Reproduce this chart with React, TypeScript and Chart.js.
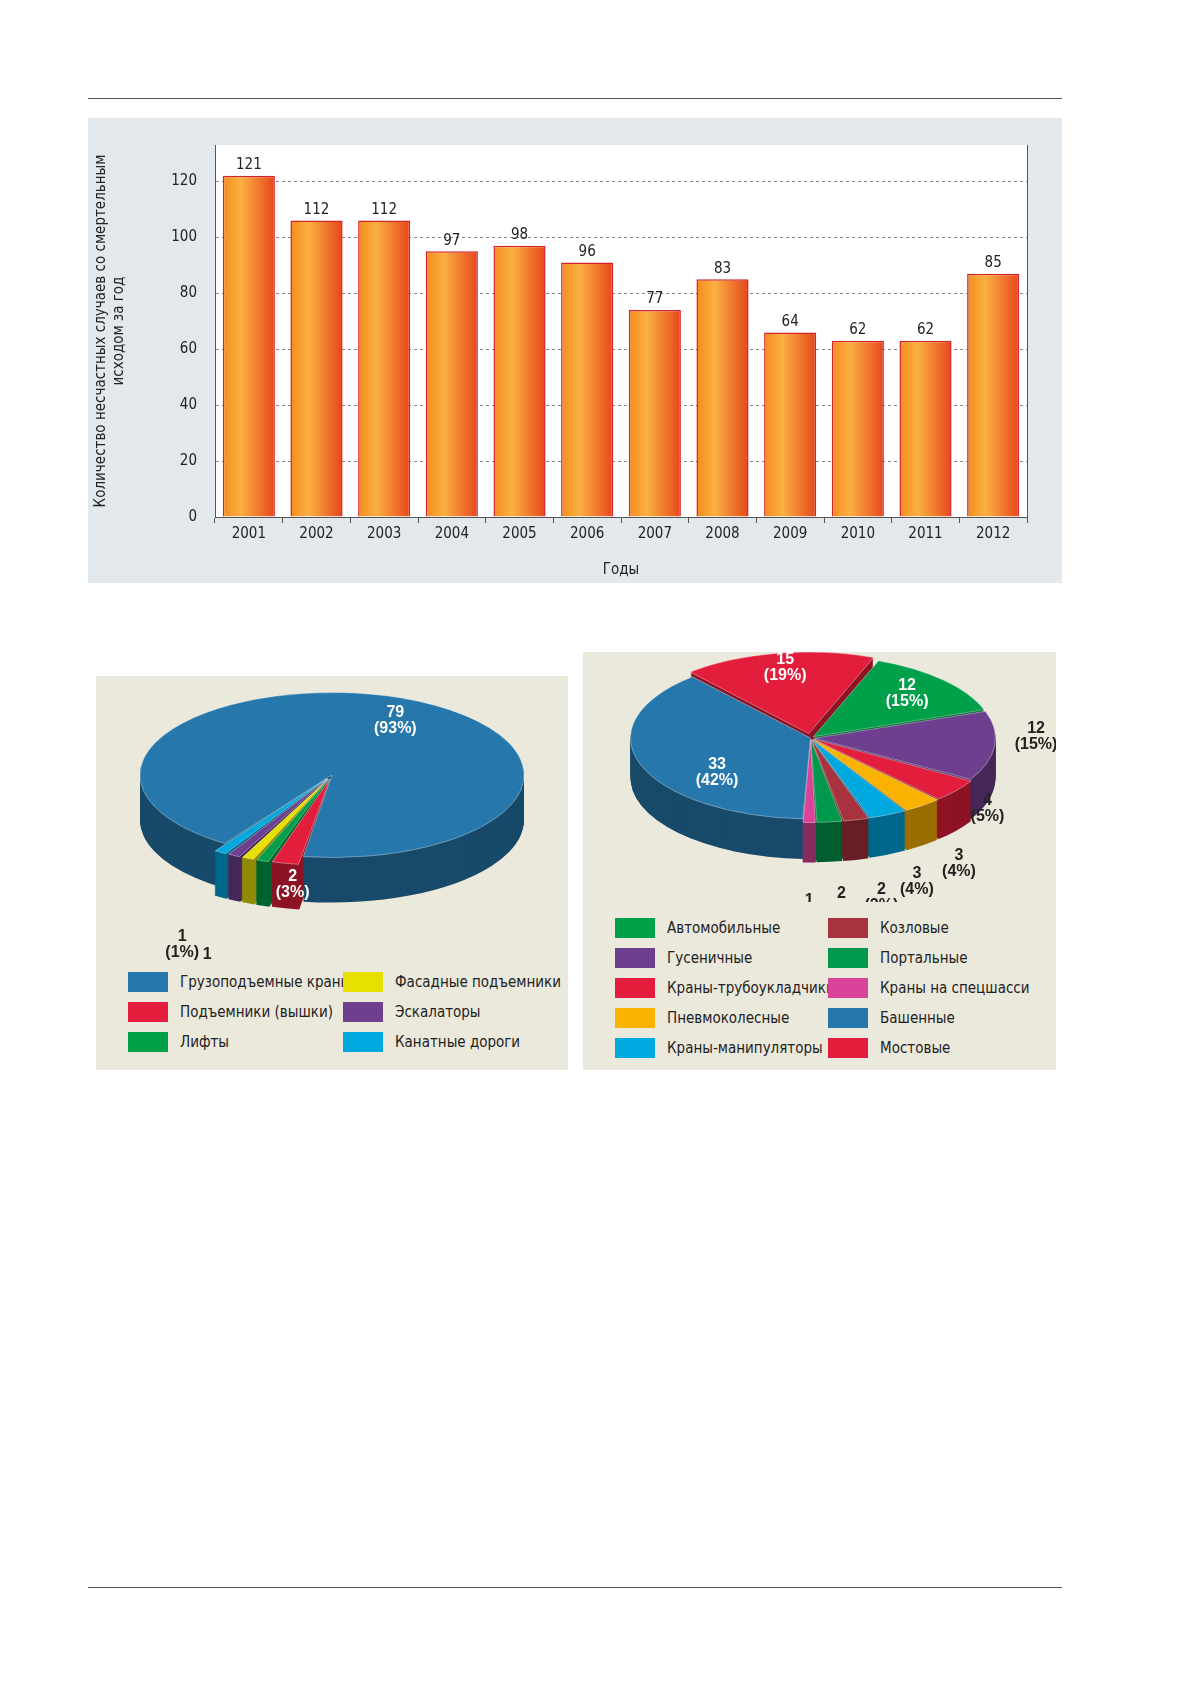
import React, { useEffect, useRef } from "react";
import { Chart, registerables } from "chart.js";
Chart.register(...registerables);

const FONT = "'Liberation Sans Narrow', 'DejaVu Sans Condensed', 'Liberation Sans', sans-serif";

// Bar chart data
const years = ["2001","2002","2003","2004","2005","2006","2007","2008","2009","2010","2011","2012"];
const barHeights = [122, 106, 106, 95, 97, 91, 74, 85, 66, 63, 63, 87];
const barLabels = ["121","112","112","97","98","96","77","83","64","62","62","85"];
const yTicks = [0, 20, 40, 60, 80, 100, 120];

// Left pie
const leftNames = ["Грузоподъемные краны","Подъемники (вышки)","Лифты","Фасадные подъемники","Эскалаторы","Канатные дороги"];
const leftValues = [79, 2, 1, 1, 1, 1];
const leftPct = ["93%","3%","1%","1%","1%","1%"];
const leftColors = ["#2677ab","#e31e3c","#00a04a","#e8e000","#6f3f8f","#00a8e0"];
const leftLegendOrder = [0, 3, 1, 4, 2, 5];

// Right pie
const rightNames = ["Мостовые","Автомобильные","Гусеничные","Краны-трубоукладчики","Пневмоколесные","Краны-манипуляторы","Козловые","Портальные","Краны на спецшасси","Башенные"];
const rightValues = [15, 12, 12, 4, 3, 3, 2, 2, 1, 33];
const rightPct = ["19%","15%","15%","5%","4%","4%","2%","3%","1%","42%"];
const rightColors = ["#e31e3c","#00a04a","#6f3f8f","#e31e3c","#f9b200","#00a8e0","#a8323e","#00984a","#d9449a","#2677ab"];
const rightLegendOrder = [1, 6, 2, 7, 3, 8, 4, 9, 5, 0];

function darken(hex: string, f: number) {
  const n = parseInt(hex.slice(1), 16);
  const r = Math.round(((n >> 16) & 255) * f), g = Math.round(((n >> 8) & 255) * f), b = Math.round((n & 255) * f);
  return `rgb(${r},${g},${b})`;
}

function arcOffset(arc: any) {
  const off = (arc.options.offset || 0) / 4;
  const circ = arc.endAngle - arc.startAngle;
  const fix = 1 - Math.sin(Math.min(Math.PI, circ || 0));
  return off + off * fix;
}

function pie3d(k: number, depth: number, colors: string[], labelInfo: { f: number[]; dx: number[]; dy: number[]; white: boolean[]; lines: string[][] }) {
  return {
    id: "pie3d",
    beforeDatasetsDraw(chart: any) {
      const ctx = chart.ctx;
      const meta = chart.getDatasetMeta(0);
      const cx = meta.data[0].x, cy = meta.data[0].y;
      ctx.save();
      ctx.translate(cx, cy);
      ctx.scale(1, k);
      ctx.translate(-cx, -cy);
      for (let d = depth; d >= 1; d--) {
        meta.data.forEach((arc: any, i: number) => {
          const s = arc.startAngle, e = arc.endAngle, r = arc.outerRadius;
          const mid = (s + e) / 2;
          const off = arcOffset(arc);
          const ox = arc.x + Math.cos(mid) * off;
          const oy = arc.y + Math.sin(mid) * off + d / k;
          ctx.beginPath();
          ctx.moveTo(ox, oy);
          ctx.arc(ox, oy, r, s, e);
          ctx.closePath();
          ctx.fillStyle = darken(colors[i], 0.62);
          ctx.fill();
        });
      }
    },
    afterDatasetsDraw(chart: any) {
      const ctx = chart.ctx;
      ctx.restore();
      const meta = chart.getDatasetMeta(0);
      ctx.save();
      ctx.font = `bold 16px 'Liberation Sans', sans-serif`;
      ctx.textAlign = "center";
      ctx.textBaseline = "middle";
      meta.data.forEach((arc: any, i: number) => {
        const mid = (arc.startAngle + arc.endAngle) / 2;
        const off = arcOffset(arc);
        const rr = arc.outerRadius * labelInfo.f[i] + off;
        const x = arc.x + Math.cos(mid) * rr + labelInfo.dx[i];
        const y = arc.y + Math.sin(mid) * rr * k + labelInfo.dy[i];
        ctx.fillStyle = labelInfo.white[i] ? "#ffffff" : "#222222";
        labelInfo.lines[i].forEach((t, j) => ctx.fillText(t, x, y + (j - (labelInfo.lines[i].length - 1) / 2) * 16));
      });
      ctx.restore();
    },
  };
}

function BarChart() {
  const ref = useRef<HTMLCanvasElement>(null);
  useEffect(() => {
    const labelPlugin = {
      id: "barLabels",
      afterDatasetsDraw(chart: any) {
        const ctx = chart.ctx;
        const meta = chart.getDatasetMeta(0);
        ctx.save();
        ctx.font = `15px ${FONT}`;
        ctx.fillStyle = "#222";
        ctx.textAlign = "center";
        ctx.textBaseline = "bottom";
        meta.data.forEach((b: any, i: number) => ctx.fillText(barLabels[i], b.x, b.y - 3));
        const a = chart.chartArea;
        ctx.strokeStyle = "#555";
        ctx.lineWidth = 1;
        ctx.beginPath();
        ctx.moveTo(a.right + 0.5, a.top);
        ctx.lineTo(a.right + 0.5, a.bottom);
        ctx.stroke();
        ctx.restore();
      },
    };
    const bgPlugin = {
      id: "bg",
      beforeDraw(chart: any) {
        const ctx = chart.ctx, a = chart.chartArea;
        if (!a) return;
        ctx.save();
        ctx.fillStyle = "#ffffff";
        ctx.fillRect(a.left, a.top, a.right - a.left, a.bottom - a.top);
        ctx.restore();
      },
    };
    const chart = new Chart(ref.current!, {
      type: "bar",
      data: {
        labels: years,
        datasets: [{
          data: barHeights,
          backgroundColor: (c: any) => {
            const ch = c.chart;
            const xs = ch.scales?.x;
            if (!xs || !ch.chartArea) return "#f39021";
            const px = xs.getPixelForValue(c.dataIndex);
            if (!isFinite(px)) return "#f39021";
            const g = ch.ctx.createLinearGradient(px - 26, 0, px + 26, 0);
            g.addColorStop(0, "#f58b1f");
            g.addColorStop(0.35, "#fbb042");
            g.addColorStop(1, "#e6461c");
            return g;
          },
          borderColor: "#d2232a",
          borderWidth: 1.5,
          barPercentage: 0.77,
          categoryPercentage: 1,
        }],
      },
      options: {
        animation: false,
        responsive: false,
        events: [],
        layout: { padding: { top: 20, right: 35, left: 0, bottom: 0 } },
        plugins: { legend: { display: false }, tooltip: { enabled: false } },
        scales: {
          x: {
            grid: { display: true, drawOnChartArea: false, offset: true, tickLength: 6, color: "#555" },
            border: { color: "#555" },
            ticks: { font: { family: FONT, size: 15 }, color: "#222", padding: 2 },
            title: { display: true, text: "Годы", font: { family: FONT, size: 15 }, color: "#222", padding: { top: 12 } },
            afterFit: (s: any) => { s.height = 66; },
          },
          y: {
            min: 0, max: 133,
            afterBuildTicks: (s: any) => { s.ticks = yTicks.map((v) => ({ value: v })); },
            grid: { color: "#888", tickLength: 0 },
            border: { color: "#555", dash: [3, 3] },
            ticks: { font: { family: FONT, size: 15 }, color: "#222", padding: 18 },
            title: { display: true, text: ["Количество несчастных случаев со смертельным", "исходом за год"], font: { family: FONT, size: 15 }, color: "#222", padding: { bottom: 14 } },
            afterFit: (s: any) => { s.width = 127; },
          },
        },
      },
      plugins: [bgPlugin, labelPlugin],
    } as any);
    return () => chart.destroy();
  }, []);
  return <canvas ref={ref} width={974} height={465} style={{ position: "absolute", left: 88, top: 118, width: 974, height: 465 }} />;
}

function Pie(props: { names: string[]; values: number[]; colors: string[]; offsets: number[]; rotation: number; radius: number; k: number; depth: number; w: number; h: number; cxPad: { left: number; right: number; top: number; bottom: number }; left: number; top: number; labelInfo: any }) {
  const ref = useRef<HTMLCanvasElement>(null);
  useEffect(() => {
    const chart = new Chart(ref.current!, {
      type: "pie",
      data: {
        labels: props.names,
        datasets: [{ data: props.values, backgroundColor: props.colors, borderColor: "rgba(255,255,255,0.5)", borderWidth: 1, offset: props.offsets, radius: props.radius, clip: false } as any],
      },
      options: {
        animation: false,
        responsive: false,
        events: [],
        rotation: props.rotation,
        layout: { padding: props.cxPad },
        plugins: { legend: { display: false }, tooltip: { enabled: false } },
      },
      plugins: [pie3d(props.k, props.depth, props.colors, props.labelInfo)],
    } as any);
    return () => chart.destroy();
  }, []);
  return <canvas ref={ref} width={props.w} height={props.h} style={{ position: "absolute", left: props.left, top: props.top, width: props.w, height: props.h }} />;
}

function Legend(props: { order: number[]; names: string[]; colors: string[]; x1: number; x2: number; y0: number; step: number }) {
  return (
    <>
      {props.order.map((idx, n) => {
        const col = n % 2, row = Math.floor(n / 2);
        const x = col === 0 ? props.x1 : props.x2;
        const y = props.y0 + row * props.step;
        return (
          <div key={n} style={{ position: "absolute", left: x, top: y - 10, height: 20, display: "flex", alignItems: "center", whiteSpace: "nowrap" }}>
            <div style={{ width: 40, height: 20, background: props.colors[idx], marginRight: 12 }} />
            <span style={{ font: `15px ${FONT}`, color: "#222" }}>{props.names[idx]}</span>
          </div>
        );
      })}
    </>
  );
}

export default function App() {
  const leftLines = leftValues.map((v, i) => [String(v), `(${leftPct[i]})`]);
  const rightLines = rightValues.map((v, i) => [String(v), `(${rightPct[i]})`]);
  return (
    <div style={{ position: "absolute", left: 0, top: 0, width: 1179, height: 1681, background: "#fff", overflow: "hidden" }}>
      <div style={{ position: "absolute", left: 88, top: 98, width: 974, height: 1, background: "#555" }} />
      <div style={{ position: "absolute", left: 88, top: 1587, width: 974, height: 1, background: "#555" }} />
      <div style={{ position: "absolute", left: 88, top: 118, width: 974, height: 465, background: "#e3e8ec" }} />
      <BarChart />
      <div style={{ position: "absolute", left: 96, top: 676, width: 472, height: 394, background: "#ebe8dc" }} />
      <div style={{ position: "absolute", left: 583, top: 652, width: 473, height: 418, background: "#ebe8dc" }} />
      <Pie names={leftNames} values={leftValues} colors={leftColors} offsets={[0, 40, 40, 40, 40, 40]} rotation={214} radius={192} k={0.43} depth={45}
        w={472} h={284} cxPad={{ left: 0, right: 0, top: 0, bottom: 86 }} left={96} top={676}
        labelInfo={{ f: [0.55, 0.92, 1.12, 1.12, 1.12, 1.12], dx: [25, 4, 0, -6, -16, -26], dy: [-12, 28, 108, 110, 98, 84], white: [true, true, false, false, false, false], lines: leftLines }} />
      <Legend order={leftLegendOrder} names={leftNames} colors={leftColors} x1={128} x2={343} y0={982} step={30} />
      <Pie names={rightNames} values={rightValues} colors={rightColors} offsets={[40, 16, 16, 16, 16, 16, 16, 16, 16, 0]} rotation={-41} radius={180} k={0.45} depth={40}
        w={473} h={250} cxPad={{ left: 0, right: 18, top: 0, bottom: 78 }} left={583} top={652}
        labelInfo={{ f: [0.75, 0.72, 1.12, 1.15, 1.15, 1.12, 1.12, 1.1, 1.08, 0.55], dx: [0, 0, 20, 10, 20, 20, 20, 10, 0, 0], dy: [-6, -2, -10, 10, 48, 58, 68, 72, 80, 20], white: [true, true, false, false, false, false, false, false, false, true], lines: rightLines }} />
      <Legend order={rightLegendOrder} names={rightNames} colors={rightColors} x1={615} x2={828} y0={928} step={30} />
    </div>
  );
}
